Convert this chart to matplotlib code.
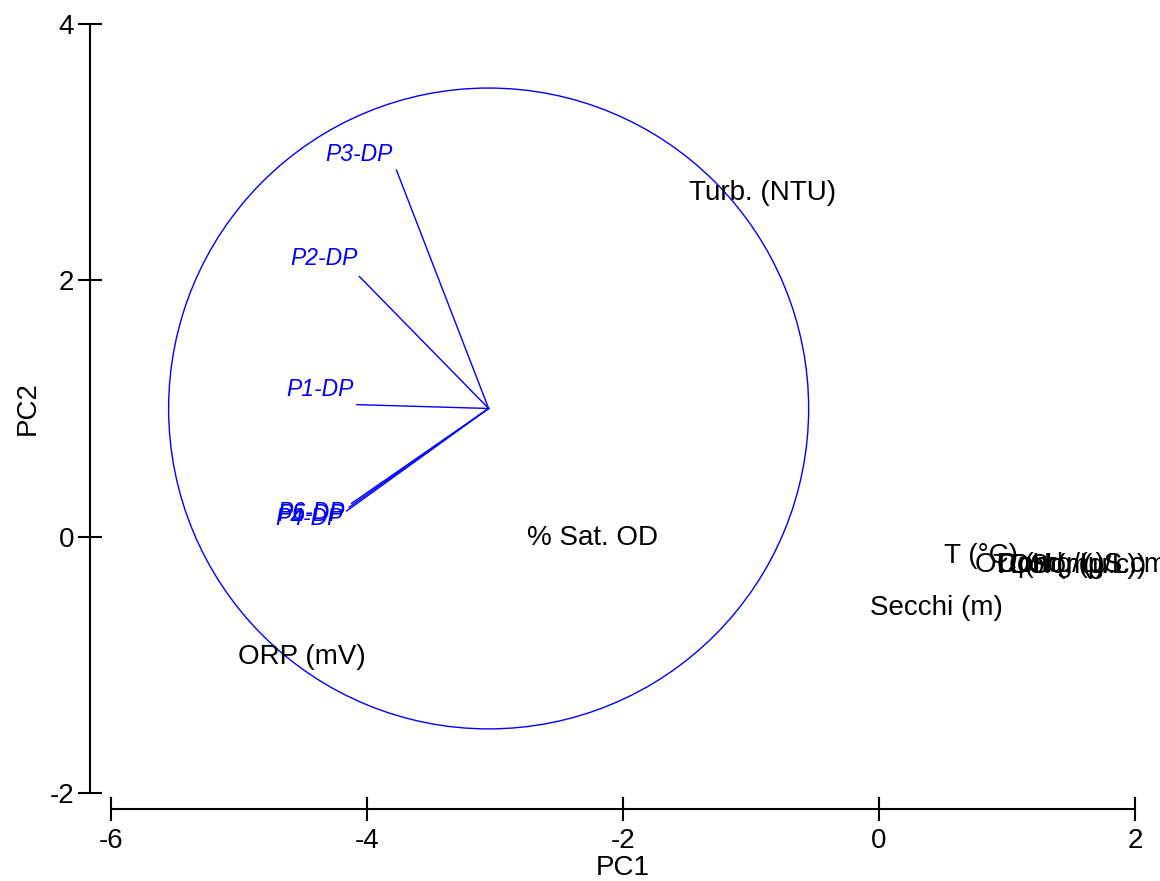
import matplotlib.pyplot as plt
from matplotlib.patches import Circle

plt.rcParams['font.family'] = ['Liberation Sans', 'DejaVu Sans']
plt.rcParams['axes.unicode_minus'] = False

# loading vectors (blue) - origin and arrow ends
origin = (-3.05, 1.0)
radius = 2.5
load_names = ["P1-DP", "P2-DP", "P3-DP", "P4-DP", "P5-DP", "P6-DP"]
load_x = [-4.08, -4.06, -3.77, -4.16, -4.14, -4.12]
load_y = [1.03, 2.03, 2.86, 0.20, 0.23, 0.26]
load_lab_x = [-4.37, -4.34, -4.06, -4.45, -4.44, -4.44]
load_lab_y = [1.15, 2.17, 2.98, 0.14, 0.17, 0.19]

# variables (black labels)
var_names = ["Turb. (NTU)", "% Sat. OD", "ORP (mV)", "Secchi (m)", "T (°C)",
             "OD (mg/L)", "Cond. (µS.cm)", "TDS (mg/L)", "pH", "Color (u.c.)"]
var_x = [-0.91, -2.24, -4.51, 0.45, 0.80, 1.26, 1.62, 1.45, 1.22, 1.55]
var_y = [2.68, -0.01, -0.94, -0.56, -0.15, -0.22, -0.22, -0.23, -0.22, -0.23]

fig = plt.figure(figsize=(11.6, 8.81), dpi=100)
ax = fig.add_axes([0.0957, 0.0999, 0.8828, 0.8729])

for x, y in zip(load_x, load_y):
    ax.plot([origin[0], x], [origin[1], y], color="blue", lw=1)
ax.add_patch(Circle(origin, radius, fill=False, ec="blue", lw=1))
for n, x, y in zip(load_names, load_lab_x, load_lab_y):
    ax.text(x, y, n, color="blue", style="italic", fontsize=16.5,
            ha="center", va="center")

for n, x, y in zip(var_names, var_x, var_y):
    ax.text(x, y, n, color="black", fontsize=20, ha="center", va="center")

ax.set_xlim(-6, 2)
ax.set_ylim(-2, 4)
ax.set_xticks([-6, -4, -2, 0, 2])
ax.set_yticks([-2, 0, 2, 4])
ax.spines["top"].set_visible(False)
ax.spines["right"].set_visible(False)
ax.spines["left"].set_position(("outward", 15))
ax.spines["bottom"].set_position(("outward", 11.5))
for s in ["left", "bottom"]:
    ax.spines[s].set_linewidth(1.5)
ax.tick_params(direction="inout", length=17, width=1.5, labelsize=20)
ax.tick_params(axis="x", pad=5)
ax.tick_params(axis="y", pad=3)
ax.set_xlabel("PC1", fontsize=20, labelpad=1)
ax.set_ylabel("PC2", fontsize=20, labelpad=6)

fig.savefig("out.png")
